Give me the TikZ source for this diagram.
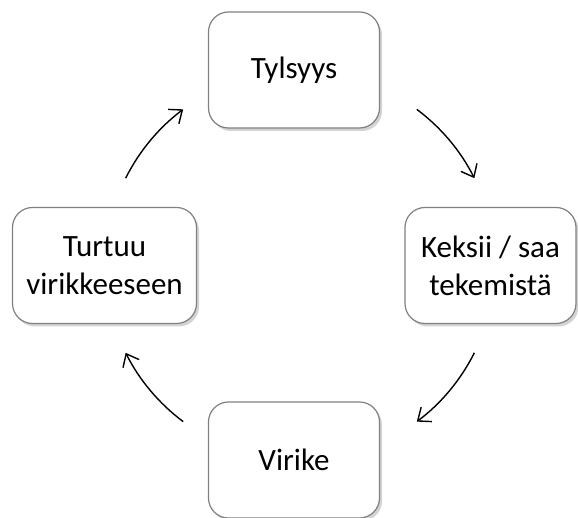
\documentclass[tikz,border=0pt]{standalone}
\usepackage{fontspec}
\setmainfont{Carlito}
\usetikzlibrary{positioning,shadows,arrows.meta}
\definecolor{edgeclr}{rgb}{0.5, 0.5, 0.5}
\tikzset{ %
  ,>={Straight Barb[length=11pt, width=18pt, line width=1.4pt]}
  ,every node/.style={font=\fontsize{31}{38}\selectfont}
  ,box/.style={draw=edgeclr, line width=1.2pt, rounded corners=20pt, fill=white, minimum width=171pt, minimum height=116pt, align=center, drop shadow={shadow xshift=2.5pt, shadow yshift=-3pt, opacity=0.35, fill=gray}}
  ,cyc/.style={->, line width=1.4pt}
}
\begin{document}
\begin{tikzpicture}[x=1pt, y=1pt]
    \useasboundingbox (0,0) rectangle (578,518);
    \coordinate (c) at (300,252.5);
    \draw 
    node[box] (tyl) at (294,448) {Tylsyys} 
    node[box] (kek) at (490.5,252.5) {Keksii / saa\\tekemistä} 
    node[box] (vir) at (294,58) {Virike} 
    node[box, minimum width=184pt] (tur) at (104.5,252.5) {Turtuu\\virikkeeseen};
    % arcs between the boxes
    \draw[cyc] (c) ++(153.4:195) arc[start angle=153.4, end angle=126.8, radius=195];
    \draw[cyc] (c) ++(53.2:195) arc[start angle=53.2, end angle=26.6, radius=195];
    \draw[cyc] (c) ++(-26.6:195) arc[start angle=-26.6, end angle=-53.2, radius=195];
    \draw[cyc] (c) ++(-126.8:195) arc[start angle=-126.8, end angle=-153.4, radius=195];
\end{tikzpicture}
\end{document}
